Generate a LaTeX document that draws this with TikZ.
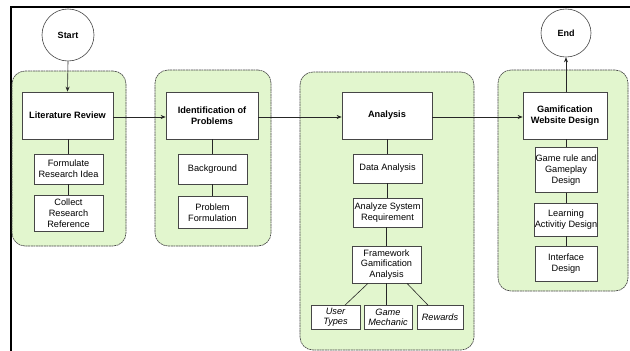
\documentclass[tikz,border=0pt]{standalone}
\usepackage{fontspec}
\setmainfont{Liberation Sans}
\usetikzlibrary{shapes.geometric,arrows.meta,calc}
\definecolor{grpgreen}{RGB}{226,246,206}
\definecolor{edgegray}{RGB}{70,70,70}
\tikzset{
  grp/.style={draw=edgegray, line width=0.6pt, dash pattern=on 2pt off 0.6pt, fill=grpgreen, rounded corners=13pt, inner sep=0pt},
  mainbox/.style={draw=edgegray, line width=0.7pt, fill=white, align=center, inner sep=0pt, font=\fontsize{9.2}{11}\selectfont\bfseries},
  subbox/.style={draw=edgegray, line width=0.7pt, fill=white, align=center, inner sep=0pt, font=\fontsize{9.2}{10.8}\selectfont},
  leafbox/.style={subbox, font=\fontsize{9.2}{10.5}\selectfont\itshape},
  term/.style={ellipse, draw=edgegray, line width=0.6pt, fill=white, inner sep=0pt, font=\fontsize{9}{11}\selectfont\bfseries},
  link/.style={draw=black!85, line width=0.6pt},
  flow/.style={link, -{Stealth[length=5pt,width=4pt]}}
}
\begin{document}
\begin{tikzpicture}[x=1pt,y=-1pt]
\useasboundingbox (0,0) rectangle (630,351);
\fill[white] (0,0) rectangle (630,351);
% page frame
\draw[line width=2pt] (11,351) -- (11,7) -- (630,7);

% groups
\node[grp, minimum width=114pt, minimum height=175pt] (g1) at (69,158.5) {};
\node[grp, minimum width=116pt, minimum height=176pt] (g2) at (213,158) {};
\node[grp, minimum width=174pt, minimum height=278pt] (g3) at (387,211) {};
\node[grp, minimum width=130pt, minimum height=221pt] (g4) at (563,180.5) {};

% terminals
\node[term, minimum width=52pt, minimum height=52pt] (start) at (68,35) {Start};
\node[term, minimum width=50pt, minimum height=48pt] (end) at (566,33) {End};

% main boxes
\node[mainbox, minimum width=91pt, minimum height=47pt] (lr) at (67.5,115.5) {Literature Review};
\node[mainbox, minimum width=92pt, minimum height=47pt] (ip) at (212,115.5) {Identification of\\Problems};
\node[mainbox, minimum width=90pt, minimum height=47pt] (an) at (387,115.5) {Analysis};
\node[mainbox, minimum width=84pt, minimum height=47pt] (gw) at (565,115.5) {Gamification\\Website Design};

% sub boxes group 1
\node[subbox, minimum width=69pt, minimum height=30pt] (fr) at (68.5,169) {Formulate\\Research Idea};
\node[subbox, minimum width=69pt, minimum height=36pt] (cr) at (68.5,213) {Collect\\Research\\Reference};
% group 2
\node[subbox, minimum width=69pt, minimum height=30pt] (bg) at (212.5,169) {Background};
\node[subbox, minimum width=69pt, minimum height=32pt] (pf) at (212.5,212.5) {Problem\\Formulation};
% group 3
\node[subbox, minimum width=69pt, minimum height=29pt] (da) at (387.5,168.5) {Data Analysis};
\node[subbox, minimum width=69pt, minimum height=29pt] (asr) at (387.5,212.5) {Analyze System\\Requirement};
\node[subbox, minimum width=69pt, minimum height=37pt] (fga) at (386.5,264.5) {Framework\\Gamification\\Analysis};
\node[leafbox, minimum width=49pt, minimum height=24pt] (ut) at (335.5,317.5) {User\\Types};
\node[leafbox, minimum width=48pt, minimum height=24pt] (gm) at (388,317.5) {Game\\Mechanic};
\node[leafbox, minimum width=46pt, minimum height=24pt] (rw) at (440,317.5) {Rewards};
% group 4
\node[subbox, minimum width=62pt, minimum height=45pt] (grd) at (566,170) {Game rule and\\Gameplay\\Design};
\node[subbox, minimum width=62pt, minimum height=33pt] (lad) at (566,219.5) {Learning\\Activitiy Design};
\node[subbox, minimum width=62pt, minimum height=35pt] (ifd) at (566,263.5) {Interface\\Design};

% flow arrows
\draw[flow] (start.south) -- (lr.north);
\draw[flow] (lr.east |- 0,117) -- (ip.west |- 0,117);
\draw[flow] (ip.east |- 0,117) -- (an.west |- 0,117);
\draw[flow] (an.east |- 0,117) -- (gw.west |- 0,117);
\draw[flow] (gw.north -| end.south) -- (end.south);

% tree links
\draw[link] (lr.south -| fr.north) -- (fr.north);
\draw[link] (fr.south) -- (cr.north);
\draw[link] (ip.south -| bg.north) -- (bg.north);
\draw[link] (bg.south) -- (pf.north);
\draw[link] (an.south -| da.north) -- (da.north);
\draw[link] (da.south) -- (asr.north);
\draw[link] (asr.south -| fga.north) -- (fga.north);
\draw[link] ($(fga.south)+(-18.5,0)$) -- ($(ut.north)+(9.5,0)$);
\draw[link] (fga.south) -- (fga.south |- gm.north);
\draw[link] ($(fga.south)+(20.5,0)$) -- ($(rw.north)+(-12,0)$);
\draw[link] (gw.south -| grd.north) -- (grd.north);
\draw[link] (grd.south) -- (lad.north);
\draw[link] (lad.south) -- (ifd.north);
\end{tikzpicture}
\end{document}
